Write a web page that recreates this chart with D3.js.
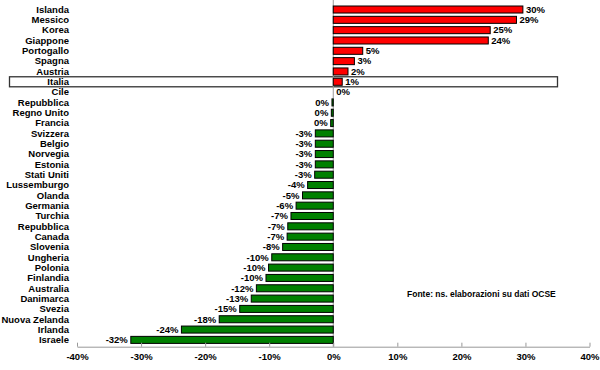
<!DOCTYPE html>
<html lang="it">
<head>
<meta charset="utf-8">
<title>Variazione OCSE</title>
<script src="https://d3js.org/d3.v7.min.js"></script>
<style>
  body { margin: 0; background: #fff; }
  text { font-family: "Liberation Sans", Arial, sans-serif; font-weight: bold; fill: #000; }
</style>
</head>
<body>
<script>
// data (percent)
const countries = ["Islanda", "Messico", "Korea", "Giappone", "Portogallo", "Spagna", "Austria",
  "Italia", "Cile", "Repubblica", "Regno Unito", "Francia", "Svizzera", "Belgio", "Norvegia",
  "Estonia", "Stati Uniti", "Lussemburgo", "Olanda", "Germania", "Turchia", "Repubblica",
  "Canada", "Slovenia", "Ungheria", "Polonia", "Finlandia", "Australia", "Danimarca", "Svezia",
  "Nuova Zelanda", "Irlanda", "Israele"];
const values = [29.6, 28.6, 24.5, 24.2, 4.6, 3.3, 2.3, 1.4, 0, -0.2, -0.3, -0.4, -2.8, -2.8, -2.8,
  -2.8, -2.9, -4.0, -4.8, -5.8, -6.6, -7.1, -7.2, -7.9, -9.6, -10.1, -10.5, -12.0, -12.8, -14.6,
  -17.8, -23.7, -31.6];
const xTicks = [-40, -30, -20, -10, 0, 10, 20, 30, 40];
const highlight = "Italia";
const note = "Fonte: ns. elaborazioni su dati OCSE";

const W = 600, H = 370;
const data = countries.map((c, i) => ({ id: i, name: c, v: values[i] }));

const svg = d3.select("body").append("svg")
  .attr("width", W).attr("height", H);

const x = d3.scaleLinear().domain([-40, 40]).range([77, 589.5]);
const y = d3.scaleBand().domain(data.map(d => d.id)).range([2.7, 346.7]).padding(0.32);

// highlight box round Italia
const hi = data.find(d => d.name === highlight);
svg.append("rect")
  .attr("x", 9.5).attr("y", y(hi.id) - 1.5)
  .attr("width", 548).attr("height", y.bandwidth() + 3)
  .attr("fill", "none").attr("stroke", "#333").attr("stroke-width", 1.3);

// zero line
svg.append("line")
  .attr("x1", x(0)).attr("x2", x(0))
  .attr("y1", 0).attr("y2", 346.7)
  .attr("stroke", "#999").attr("stroke-width", 1);

// bars
svg.append("g").selectAll("rect")
  .data(data.filter(d => d.v !== 0))
  .join("rect")
  .attr("x", d => x(Math.min(0, d.v)))
  .attr("y", d => y(d.id))
  .attr("width", d => Math.abs(x(d.v) - x(0)))
  .attr("height", y.bandwidth())
  .attr("fill", d => d.v > 0 ? "#ff0000" : "#008000")
  .attr("stroke", "#000").attr("stroke-width", 1);

// value labels
const fmt = v => { const r = Math.round(v); return (r === 0 ? 0 : r) + "%"; };
svg.append("g").selectAll("text")
  .data(data)
  .join("text")
  .attr("x", d => d.v < 0 ? x(d.v) - 3 : x(d.v) + 3)
  .attr("y", d => y(d.id) + y.bandwidth() / 2)
  .attr("dy", "0.35em")
  .attr("text-anchor", d => d.v < 0 ? "end" : "start")
  .style("font-size", "9.5px")
  .text(d => fmt(d.v));

// category labels
svg.append("g").selectAll("text")
  .data(data)
  .join("text")
  .attr("x", 69)
  .attr("y", d => y(d.id) + y.bandwidth() / 2)
  .attr("dy", "0.35em")
  .attr("text-anchor", "end")
  .style("font-size", "9.5px")
  .text(d => d.name);

// x axis, ticks pointing up
const xAxis = d3.axisBottom(x).tickValues(xTicks).tickSizeInner(-4).tickSizeOuter(0)
  .tickPadding(7).tickFormat(d => d + "%");
const ax = svg.append("g").attr("transform", "translate(0,346.7)").call(xAxis);
ax.select(".domain").attr("stroke", "#999");
ax.selectAll(".tick line").attr("stroke", "#999");
ax.selectAll(".tick text").style("font-size", "9.5px").style("font-family", "Liberation Sans, Arial, sans-serif");

// source note
svg.append("text")
  .attr("x", 407).attr("y", 297)
  .style("font-size", "8.5px")
  .text(note);
</script>
</body>
</html>
